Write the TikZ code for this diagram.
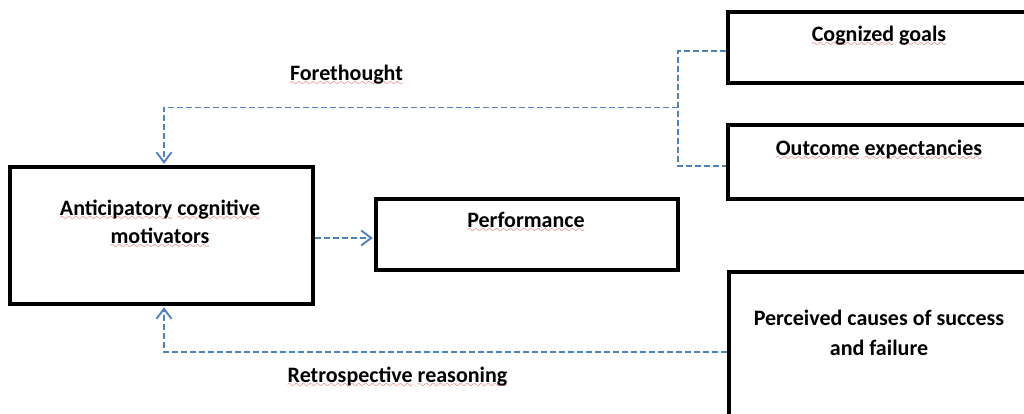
\documentclass[tikz,border=0pt]{standalone}
\usepackage{fontspec}
\setmainfont{Carlito}
\usetikzlibrary{arrows.meta}
\definecolor{linkblue}{RGB}{79,129,189}
\definecolor{spellred}{RGB}{225,45,45}
\font\wavefont=lasy10\relax
% red wavy underline under flagged words
\newcommand\spellmark[1]{%
  \setbox0\hbox{#1}%
  \rlap{\textcolor{spellred}{\lower5pt\hbox to\wd0{\xleaders\hbox{\wavefont\char58}\hfil}}}%
  \box0\relax}
\begin{document}
\begin{tikzpicture}[x=1pt,y=-1pt,
  box/.style={draw,line width=3.2pt,inner sep=0pt},
  label/.style={font=\bfseries\fontsize{22}{28}\selectfont,inner sep=0pt,anchor=base},
  link/.style={draw=linkblue,line width=1.9pt,dash pattern=on 6pt off 3pt},
  tip/.style={-{Straight Barb[length=10pt,width=15pt]},shorten >=1.6pt}]
\useasboundingbox (0,0) rectangle (1024,414);
\clip (0,0) rectangle (1024,414);

% boxes
\node[box,minimum width=303pt,minimum height=137pt] (antic) at (161.5,235.5) {};
\node[box,minimum width=302pt,minimum height=71pt] (perf) at (527,234.5) {};
\node[box,minimum width=302pt,minimum height=71pt] (goals) at (879,47.5) {};
\node[box,minimum width=302pt,minimum height=74pt] (outcome) at (879,162) {};
\node[box,minimum width=301pt,minimum height=148pt] (perceived) at (879.5,346) {};

% box texts
\node[label] (anticA) at (160,215) {\spellmark{Anticipatory} \spellmark{cognitive}};
\node[label] (anticB) at (160,243) {\spellmark{motivators}};
\node[label] (perfT) at (526,227) {\spellmark{Performance}};
\node[label] (goalsT) at (879,42) {\spellmark{Cognized} \spellmark{goals}};
\node[label] (outcomeT) at (879,156) {\spellmark{Outcome} \spellmark{expectancies}};
\node[label] (percA) at (879,325) {Perceived causes of success};
\node[label] (percB) at (879,355) {and failure};

% path labels
\node[label] (fore) at (346.5,81) {\spellmark{Forethought}};
\node[label] (retro) at (397.5,382) {\spellmark{Retrospective} \spellmark{reasoning}};

% connectors
\coordinate (fork) at (678,107.5);
\coordinate (feedX) at (164,0);
\coordinate (anticOut) at ([yshift=-2.5pt]antic.east);
\draw[link] ([yshift=-3.5pt]goals.west) -| (fork) |- ([yshift=-4pt]outcome.west);
\draw[link,tip] (fork) -| (feedX |- antic.north);
\draw[link,tip] ([yshift=-6pt]perceived.west) -| (feedX |- antic.south);
\draw[link,tip] (anticOut) -- (perf.west |- anticOut);
\end{tikzpicture}
\end{document}
